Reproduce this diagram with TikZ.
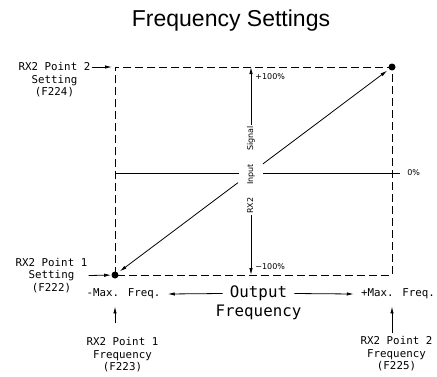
\documentclass[tikz,border=0pt]{standalone}
\usepackage{fontspec}
\newfontfamily\titlefont{Liberation Sans}
\newfontfamily\cadfont{DejaVu Sans Mono}
\newfontfamily\sigfont{DejaVu Sans}
\usetikzlibrary{arrows.meta,calc}
\tikzset{
  cad/.style={font=\cadfont\fontsize{10.8}{12.5}\selectfont, align=center, inner sep=1pt},
  big/.style={font=\cadfont\fontsize{15.8}{18}\selectfont, inner sep=1pt},
  sig/.style={font=\sigfont\fontsize{8}{9}\selectfont, inner sep=1pt},
  dot/.style={circle, fill, minimum size=7pt, inner sep=0pt},
  arr/.style={-{Latex[length=7pt,width=3.4pt]}},
  boxline/.style={dash pattern=on 8pt off 4pt}
}
\begin{document}
\begin{tikzpicture}[x=1pt,y=-1pt,line width=0.8pt]
\useasboundingbox (0,0) rectangle (437,376);
\node[font=\titlefont\fontsize{23}{27}\selectfont, anchor=base] (title) at (231,26) {Frequency Settings};
\node[dot] (p1) at (115,275) {};
\node[dot] (p2) at (392,67) {};
\draw[boxline] (p1.center) rectangle (p2.center);
\coordinate (tl) at (p1 |- p2);
\coordinate (zl) at (115,173);
\coordinate (zr) at (400,173);
\node[sig, rotate=90, inner ysep=8pt] (ris) at (251,170) {RX2\hspace{13pt}Input\hspace{13pt}Signal};
\draw[arr] (ris.east) -- (ris.east |- p2);
\draw[arr] (ris.west) -- (ris.west |- p1);
\draw (zl) -- (ris.north |- zl);
\draw (ris.south |- zl) -- (zr);
\node[sig, anchor=west] (zero) at (406,173) {0\%};
\node[sig, anchor=west] (pmax) at (254,77) {+100\%};
\node[sig, anchor=west] (pmin) at (254,267) {−100\%};
\coordinate (da) at ($(p1)!0.444!(p2)$);
\coordinate (db) at ($(p1)!0.534!(p2)$);
\draw[arr, shorten >=2pt] (da) -- (p1);
\draw[arr, shorten >=2pt] (db) -- (p2);
\node[cad] (set2) at (54.5,80) {RX2 Point 2\\Setting\\(F224)};
\draw[arr, shorten >=3pt] (set2.east |- tl) -- (tl);
\node[cad] (set1) at (51.5,275.5) {RX2 Point 1\\Setting\\(F222)};
\draw[arr] (set1.east) -- (p1);
\node[cad, inner xsep=7pt] (fmin) at (123.5,294) {-Max. Freq.};
\node[cad, inner xsep=7pt] (fmax) at (398,294) {+Max. Freq.};
\node[big, inner xsep=7pt] (outw) at (258.5,293.5) {Output};
\node[big] (freqw) at (258.5,312.5) {Frequency};
\draw[arr] (outw.west) -- (fmin.east);
\draw[arr] (outw.east) -- (fmax.west);
\node[cad] (pf1) at (122.5,355) {RX2 Point 1\\Frequency\\(F223)};
\node[cad] (pf2) at (396.5,354) {RX2 Point 2\\Frequency\\(F225)};
\draw[arr, shorten >=6pt, shorten <=13pt] (pf1.north -| p1) -- (fmin.south -| p1);
\draw[arr, shorten >=6pt, shorten <=2pt] (pf2.north -| p2) -- (fmax.south -| p2);
\end{tikzpicture}
\end{document}
